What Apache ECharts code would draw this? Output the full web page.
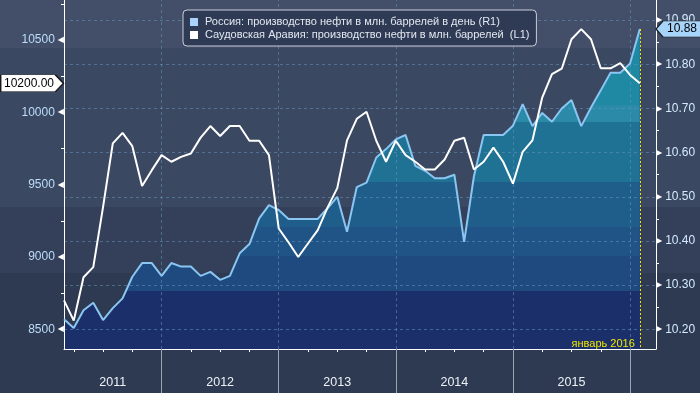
<!DOCTYPE html>
<html><head><meta charset="utf-8">
<script src="https://cdn.jsdelivr.net/npm/echarts@6/dist/echarts.min.js"></script>
<style>
html,body{margin:0;padding:0;background:#2d3a52;}
#c{width:700px;height:393px;background:linear-gradient(to bottom,#434f69 0px,#434f69 48px,#3b4862 48px,#3b4862 207px,#343f59 207px,#343f59 273px,#2d3a52 273px,#2d3a52 393px);}
</style></head><body><div id="c"></div>
<script>
// ---- data ----
const russiaName = 'Россия: производство нефти в млн. баррелей в день (R1)';
const saudiName = 'Саудовская Аравия: производство нефти в млн. баррелей  (L1)';
const firstMonth = [2011, 2]; // first point: end of Feb 2011, monthly to Jan 2016
const saudi = [8700, 8560, 8860, 8930, 9345, 9785, 9858, 9766, 9490, 9600,
  9704, 9658, 9692, 9715, 9825, 9905, 9836, 9905, 9905, 9803,
  9803, 9704, 9197, 9102, 9000, 9093, 9185, 9341, 9476, 9806,
  9955, 10004, 9803, 9658, 9803, 9704, 9658, 9605, 9605, 9674,
  9803, 9824, 9604, 9658, 9756, 9658, 9507, 9727, 9806, 10102,
  10263, 10301, 10505, 10575, 10505, 10304, 10304, 10339, 10258, 10200];
const russia = [10.223, 10.203, 10.243, 10.260, 10.221, 10.248, 10.270, 10.319, 10.350, 10.350,
  10.321, 10.350, 10.342, 10.342, 10.321, 10.330, 10.312, 10.321, 10.372, 10.393,
  10.451, 10.481, 10.470, 10.450, 10.450, 10.450, 10.450, 10.474, 10.500, 10.421,
  10.522, 10.532, 10.589, 10.608, 10.630, 10.640, 10.570, 10.559, 10.542, 10.542,
  10.550, 10.398, 10.546, 10.640, 10.640, 10.640, 10.661, 10.710, 10.660, 10.690,
  10.670, 10.700, 10.719, 10.660, 10.702, 10.741, 10.781, 10.781, 10.802, 10.880];
const years = ['2011', '2012', '2013', '2014', '2015'];
const leftTicks = [8500, 9000, 9500, 10000, 10500];
const leftMinor = [8750, 9250, 9750, 10250, 10750];
const rightTicks = [10.2, 10.3, 10.4, 10.5, 10.6, 10.7, 10.8, 10.9];
const rightMinor = [10.25, 10.35, 10.45, 10.55, 10.65, 10.75, 10.85];
const markerText = 'январь 2016';

// ---- axis extents (view window) ----
const leftMin = 8364, leftMax = 10776;
const rightMin = 10.1554, rightMax = 10.9456;
const baseYear = 2011;
const xs = saudi.map((_, i) => (firstMonth[0] - baseYear) * 12 + firstMonth[1] + i); // month-end positions
const xMin = xs[0], xMax = 62.66;

const yearBounds = [];
for (let k = 1; k <= years.length; k++) yearBounds.push(k * 12);
const yearLabelPos = years.map((y, k) => {
  const s = Math.max(k * 12, xMin), e = Math.min(k * 12 + 12, xMax);
  return (s + e) / 2;
});
const quarterTicks = [];
for (let m = 3; m < xMax; m += 3) if (m % 12 !== 0 && m > xMin) quarterTicks.push(m);

const gridLine = {color: 'rgba(100,150,190,0.55)', type: [3, 3], width: 1};
const H = 349;
const bands = [[0, '#1f88a3'], [105, '#2a8aa8'], [121.7, '#1f7294'], [181.7, '#1f5e8a'],
  [226.7, '#215486'], [256, '#1e4a7f'], [290.7, '#1b2f6b']];
const stops = [];
bands.forEach((b, i) => {
  const end = i < bands.length - 1 ? bands[i + 1][0] : H;
  stops.push({offset: b[0] / H, color: b[1]});
  stops.push({offset: end / H, color: b[1]});
});

const chart = echarts.init(document.getElementById('c'), null, {renderer: 'canvas'});
const font = 'Liberation Sans';
chart.setOption({
  animation: false,
  backgroundColor: 'transparent',
  textStyle: {fontFamily: font},
  grid: {left: 64, right: 44, top: 0, bottom: 44},
  legend: {
    orient: 'vertical', left: 183, top: 10,
    data: [russiaName, saudiName],
    backgroundColor: '#2f3a55', borderColor: '#c9ced8', borderWidth: 1, borderRadius: 4,
    padding: [6, 7, 5, 7], itemGap: 1, itemWidth: 8, itemHeight: 8, icon: 'rect',
    textStyle: {color: '#e2e8f0', fontSize: 11, fontFamily: font, lineHeight: 12, padding: [0, 0, 0, 2]}
  },
  xAxis: [{
    type: 'value', min: xMin, max: xMax, position: 'bottom', z: 3,
    axisLine: {show: true, lineStyle: {color: '#ffffff', width: 1}},
    axisTick: {show: true, customValues: quarterTicks, length: 3, lineStyle: {color: '#ffffff'}},
    axisLabel: {show: true, customValues: yearLabelPos, margin: 27, color: '#eef2f7', fontSize: 12.5,
      formatter: v => { const k = yearLabelPos.findIndex(p => Math.abs(p - v) < 1e-6); return k >= 0 ? years[k] : ''; }},
    splitLine: {show: false}
  }, {
    type: 'value', min: xMin, max: xMax, position: 'bottom', z: 3,
    axisLine: {show: false},
    axisTick: {show: true, customValues: yearBounds, length: 44, lineStyle: {color: '#9aa3b1', width: 1}},
    axisLabel: {show: false}, splitLine: {show: false}
  }],
  yAxis: [{
    type: 'value', position: 'left', min: leftMin, max: leftMax, z: 3,
    axisLine: {show: true, lineStyle: {color: '#ffffff', width: 1}},
    axisTick: {show: true, customValues: leftMinor, length: 3, lineStyle: {color: '#ffffff'}},
    axisLabel: {customValues: leftTicks, margin: 0, formatter: v => '{a|' + v + '}{t|◀}',
      rich: {a: {color: '#bcdcfb', fontSize: 12, fontFamily: font, padding: [0, 3, 0, 0]},
             t: {color: '#ffffff', fontSize: 8, fontFamily: 'DejaVu Sans'}}},
    splitLine: {show: false}
  }, {
    type: 'value', position: 'right', min: rightMin, max: rightMax, z: 3,
    axisLine: {show: true, lineStyle: {color: '#ffffff', width: 1}},
    axisTick: {show: true, customValues: rightMinor, length: 3, lineStyle: {color: '#ffffff'}},
    axisLabel: {customValues: rightTicks, margin: 0, formatter: v => '{t|▶}{a|' + v.toFixed(2) + '}',
      rich: {a: {color: '#d4eafd', fontSize: 12, fontFamily: font, padding: [0, 0, 0, 3]},
             t: {color: '#ffffff', fontSize: 8, fontFamily: 'DejaVu Sans'}}},
    splitLine: {show: false}
  }],
  series: [{
    name: 'russiaArea', type: 'line', yAxisIndex: 1, z: 1, silent: true,
    data: xs.map((x, i) => [x, russia[i]]),
    symbol: 'none', lineStyle: {width: 0, opacity: 0},
    areaStyle: {origin: 'start', opacity: 1,
      color: {type: 'linear', x: 0, y: 0, x2: 0, y2: H, global: true, colorStops: stops}},
    markLine: {
      silent: true, symbol: 'none', z: 2, animation: false, label: {show: false}, lineStyle: gridLine,
      data: rightTicks.map(v => ({yAxis: v})).concat(yearBounds.map(v => ({xAxis: v})))
    },
    markPoint: {
      silent: true, z: 6, symbol: 'rect', symbolSize: 0, animation: false,
      data: [{coord: [xs[xs.length - 1], rightMin], value: markerText}],
      label: {show: true, position: 'left', distance: 5, offset: [0, -5], formatter: markerText,
        color: '#f2e600', fontSize: 11, fontFamily: font}
    }
  }, {
    name: russiaName, type: 'line', yAxisIndex: 1, z: 3,
    data: xs.map((x, i) => [x, russia[i]]),
    symbol: 'none', lineStyle: {color: '#8ac6f2', width: 2}, itemStyle: {color: '#a9d3fa'},
    markLine: {
      silent: true, symbol: 'none', z: 4, animation: false, label: {show: false},
      lineStyle: {color: '#f2e600', type: [2, 2], width: 1},
      data: [[{coord: [xs[xs.length - 1], russia[russia.length - 1]]}, {coord: [xs[xs.length - 1], rightMin]}]]
    },
    markPoint: {
      silent: true, z: 10, animation: false,
      symbol: 'path://M0,8L7,0L46,0L46,16L7,16Z', symbolSize: [46, 16], symbolOffset: [23, 0],
      itemStyle: {color: '#a7d4fa', borderColor: '#1a1a1a', borderWidth: 1},
      data: [{coord: [xMax, russia[russia.length - 1]], value: russia[russia.length - 1]}],
      label: {show: true, position: 'inside', offset: [3, 0], color: '#000', fontSize: 12, fontFamily: font,
        formatter: p => p.value.toFixed(2)}
    }
  }, {
    name: saudiName, type: 'line', yAxisIndex: 0, z: 4,
    data: xs.map((x, i) => [x, saudi[i]]),
    symbol: 'none', lineStyle: {color: '#ffffff', width: 2}, itemStyle: {color: '#ffffff'},
    markPoint: {
      silent: true, z: 10, animation: false,
      symbol: 'path://M0,0L54,0L62,8L54,16L0,16Z', symbolSize: [63, 17], symbolOffset: [-32, 0],
      itemStyle: {color: '#ffffff', borderColor: '#1a1a1a', borderWidth: 1},
      data: [{coord: [xMin, saudi[saudi.length - 1]], value: saudi[saudi.length - 1]}],
      label: {show: true, position: 'inside', offset: [-3, 0], color: '#000', fontSize: 12, fontFamily: font,
        formatter: p => p.value.toFixed(2)}
    }
  }]
});
</script></body></html>
